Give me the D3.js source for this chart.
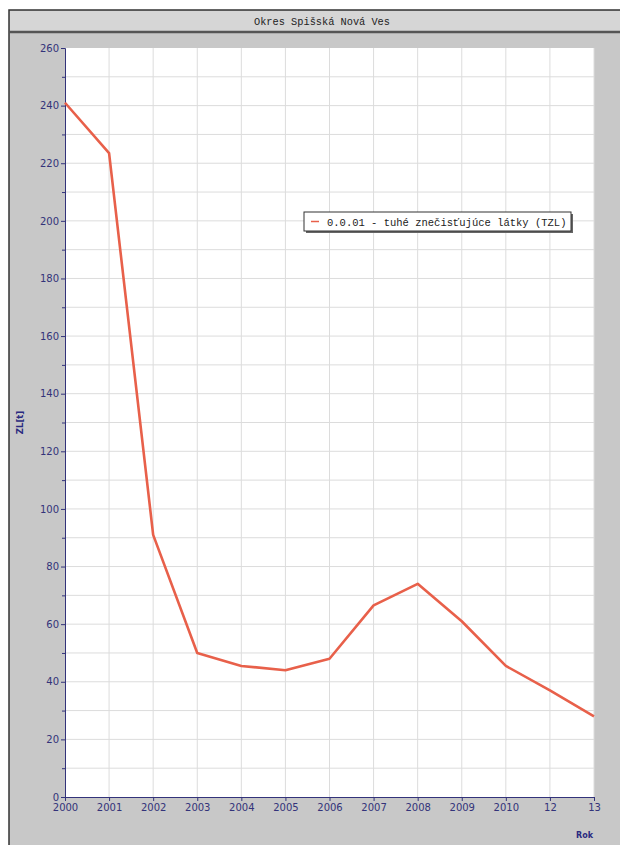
<!DOCTYPE html>
<html>
<head>
<meta charset="UTF-8">
<script src="https://d3js.org/d3.v7.min.js"></script>
<style>
    body { margin: 0; background: #fff; }
    svg { display: block; }
</style>
</head>
<body>
<svg id="chart" width="620" height="845"></svg>
<script>
    // data
    let years = ["2000", "2001", "2002", "2003", "2004", "2005", "2006", "2007", "2008", "2009", "2010", "12", "13"];
    let values = [241, 223.5, 91, 50, 45.5, 44, 48, 66.5, 74, 61, 45.5, 37, 28];
    let yTicks = [0, 20, 40, 60, 80, 100, 120, 140, 160, 180, 200, 220, 240, 260];
    let seriesName = "0.0.01 - tuhé znečisťujúce látky (TZL)";

    let svg = d3.select("svg#chart");
    let navy = "#33337a";
    let margin = { top: 48, left: 65, right: 26, bottom: 48 };
    let chartWidth = 620 - margin.left - margin.right;
    let chartHeight = 845 - margin.top - margin.bottom;

    // frame
    svg.append("rect").attr("x", 9).attr("y", 10).attr("width", 620).attr("height", 840)
        .attr("fill", "#c8c8c8").attr("stroke", "#333").attr("stroke-width", 1.5);
    svg.append("rect").attr("x", 10).attr("y", 11).attr("width", 620).attr("height", 21)
        .attr("fill", "#d6d6d6");
    svg.append("line").attr("x1", 9).attr("x2", 620).attr("y1", 32).attr("y2", 32)
        .attr("stroke", "#555").attr("stroke-width", 2.5);
    svg.append("text").attr("x", 322).attr("y", 25).attr("text-anchor", "middle")
        .style("font-family", "'Liberation Mono', 'DejaVu Sans Mono', monospace")
        .style("font-size", "10.3px").attr("fill", "#222")
        .text("Okres Spišská Nová Ves");

    let x = d3.scalePoint().domain(years).range([0, chartWidth]);
    let y = d3.scaleLinear().domain([0, 260]).range([chartHeight, 0]);

    let g = svg.append("g").attr("transform", "translate(" + margin.left + "," + margin.top + ")");
    g.append("rect").attr("width", chartWidth).attr("height", chartHeight).attr("fill", "#fff");

    // gridlines
    g.append("g").selectAll("line").data(d3.range(10, 260, 10)).join("line")
        .attr("x1", 0).attr("x2", chartWidth)
        .attr("y1", d => y(d)).attr("y2", d => y(d))
        .attr("stroke", "#dcdcdc").attr("stroke-width", 1);
    g.append("g").selectAll("line").data(years.slice(1)).join("line")
        .attr("x1", d => x(d)).attr("x2", d => x(d))
        .attr("y1", 0).attr("y2", chartHeight)
        .attr("stroke", "#dcdcdc").attr("stroke-width", 1);

    // axes
    let leftAxis = d3.axisLeft(y).tickValues(yTicks).tickSize(4).tickPadding(2);
    let yAxis = g.append("g").call(leftAxis);
    let minor = d3.axisLeft(y).tickValues(d3.range(10, 260, 20)).tickSize(3).tickFormat("");
    g.append("g").call(minor).call(a => a.select(".domain").remove())
        .selectAll("line").attr("stroke", navy);
    let bottomAxis = d3.axisBottom(x).tickSize(4).tickPadding(3).tickSizeOuter(0);
    let xAxis = g.append("g").attr("transform", "translate(0," + chartHeight + ")").call(bottomAxis);
    [yAxis, xAxis].forEach(a => {
        a.select(".domain").attr("stroke", navy);
        a.selectAll("line").attr("stroke", navy);
        a.selectAll("text").attr("fill", navy)
            .style("font-family", "'DejaVu Sans', sans-serif").style("font-size", "10px");
    });

    // line
    let line = d3.line().x((d, i) => x(years[i])).y(d => y(d));
    g.append("path").datum(values).attr("d", line)
        .attr("fill", "none").attr("stroke", "#e8604a").attr("stroke-width", 2.6)
        .attr("stroke-linejoin", "round");

    // axis labels
    svg.append("text").attr("transform", "translate(23," + (margin.top + chartHeight / 2) + ") rotate(-90)")
        .attr("text-anchor", "middle").attr("fill", "#2a2a80")
        .style("font-family", "'DejaVu Sans', sans-serif").style("font-size", "8.5px").style("font-weight", "bold")
        .text("ZL[t]");
    svg.append("text").attr("x", 593).attr("y", 838).attr("text-anchor", "end").attr("fill", "#2a2a80")
        .style("font-family", "'DejaVu Sans', sans-serif").style("font-size", "8px").style("font-weight", "bold")
        .text("Rok");

    // legend
    let lg = svg.append("g").attr("transform", "translate(304,212)");
    lg.append("rect").attr("x", 2).attr("y", 2).attr("width", 267).attr("height", 19).attr("fill", "#666");
    lg.append("rect").attr("width", 267).attr("height", 19).attr("fill", "#fff")
        .attr("stroke", "#333").attr("stroke-width", 1);
    lg.append("line").attr("x1", 7).attr("x2", 15).attr("y1", 9.5).attr("y2", 9.5)
        .attr("stroke", "#e8604a").attr("stroke-width", 1.5);
    lg.append("text").attr("x", 23).attr("y", 13.5).attr("fill", "#222")
        .style("font-family", "'Liberation Mono', 'DejaVu Sans Mono', monospace").style("font-size", "10.5px")
        .text(seriesName);
</script>
</body>
</html>
